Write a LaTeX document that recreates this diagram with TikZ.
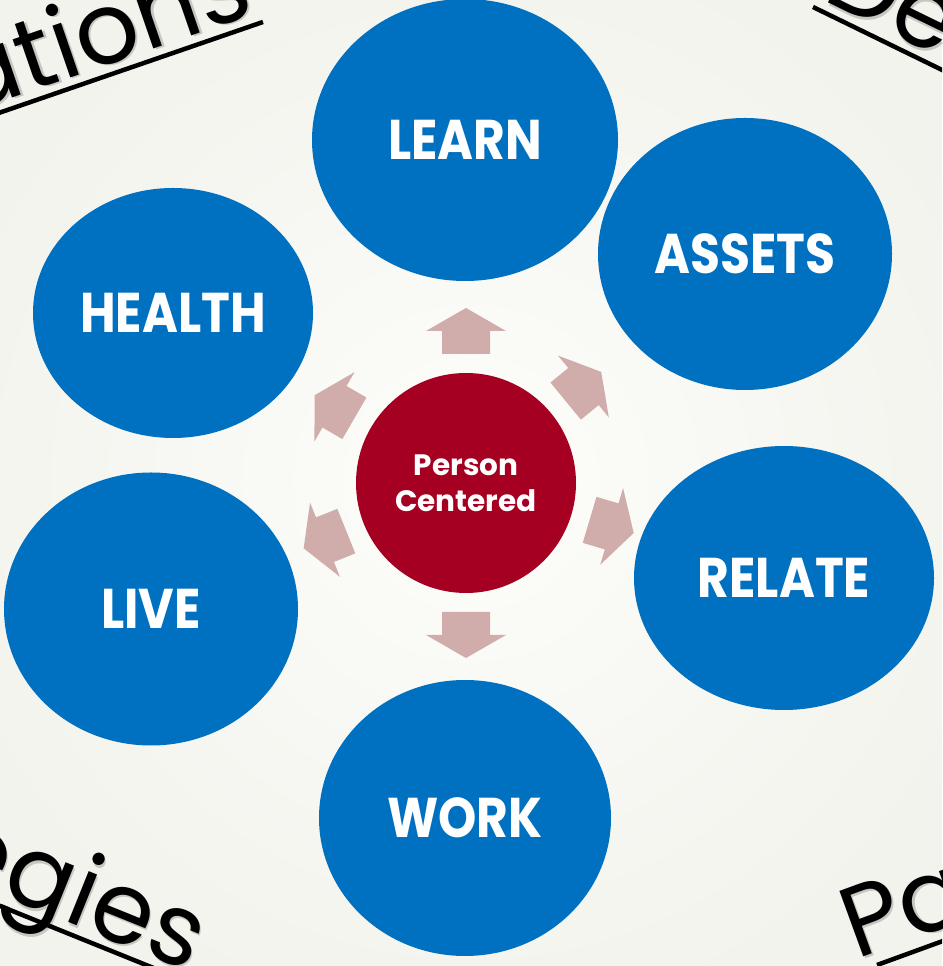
\documentclass[tikz,border=0pt]{standalone}
\usepackage{fontspec}
\setmainfont{Poppins}
\usetikzlibrary{shapes.geometric}
\definecolor{sblue}{HTML}{0070C0}
\definecolor{pcred}{HTML}{A50021}
\definecolor{arrc}{HTML}{D0ADAB}
\definecolor{bgout}{HTML}{F2F3EC}
\definecolor{bgin}{HTML}{FDFDFB}
\newcommand{\satlabel}[1]{\scalebox{0.87}[1]{#1}}
\begin{document}
\begin{tikzpicture}[x=1pt,y=1pt,
  sat/.style={ellipse, fill=sblue, text=white, inner sep=0pt,
    font=\fontsize{56}{60}\selectfont\bfseries},
  hub/.style={circle, fill=pcred, text=white, inner sep=0pt, minimum size=220pt,
    align=center, font=\fontsize{29.5}{36}\selectfont\bfseries},
  blockarrow/.style={fill=arrc},
  corner/.style={font=\fontsize{100}{100}\selectfont, inner sep=0pt, text=black, transform shape},
  cornershadow/.style={corner, opacity=0.18},
  uline/.style={line width=4.5pt, black}]
\clip (0,0) rectangle (942,966);
\fill[bgout] (0,0) rectangle (942,966);
\shade[inner color=bgin, outer color=bgout] (471,483) circle (560);

% corner words
\begin{scope}[shift={(263,944)}, rotate=19]
  \node[cornershadow, anchor=base east] at (-1,8) {ations};
  \node[corner, anchor=base east] at (-3,10) {ations};
  \draw[uline] (-320,0) -- (0,0);
\end{scope}
\begin{scope}[shift={(813,959)}, rotate=-26]
  \node[cornershadow, anchor=base west] at (6,8) {De};
  \node[corner, anchor=base west] at (4,10) {De};
  \draw[uline] (0,0) -- (250,0);
\end{scope}
\begin{scope}[shift={(10,56)}, rotate=-22]
  \node[cornershadow, anchor=base east] at (192,8) {egies};
  \node[corner, anchor=base east] at (190,10) {egies};
  \draw[uline] (-200,0) -- (250,0);
\end{scope}
\begin{scope}[shift={(877,1)}, rotate=20]
  \node[cornershadow, anchor=base west] at (-16,10) {Pa};
  \node[corner, anchor=base west] at (-18,12) {Pa};
  \draw[uline] (0,0) -- (200,0);
\end{scope}

% satellites
\node[sat, minimum width=306pt, minimum height=282pt] (LEARN) at (465,826) {\satlabel{LEARN}};
\node[sat, minimum width=294pt, minimum height=272pt] (ASSETS) at (745,712) {\satlabel{ASSETS}};
\node[sat, minimum width=300pt, minimum height=264pt] (RELATE) at (784,388) {\satlabel{RELATE}};
\node[sat, minimum width=292pt, minimum height=276pt] (WORK) at (465,148) {\satlabel{WORK}};
\node[sat, minimum width=294pt, minimum height=273pt] (LIVE) at (151,357) {\satlabel{LIVE}};
\node[sat, minimum width=280pt, minimum height=250pt] (HEALTH) at (173,653) {\satlabel{HEALTH}};

% hub
\node[hub] (pc) at (466,483) {Person\\Centered};

% diverging block arrows
\foreach \a in {90,39.4,-16.6,-90,201.9,149.9}{
  \fill[blockarrow, shift={(pc.center)}, rotate=\a]
    (129,-24) -- (152,-24) -- (152,-40) -- (175,0) -- (152,40) -- (152,24) -- (129,24) -- cycle;
}
\end{tikzpicture}
\end{document}
